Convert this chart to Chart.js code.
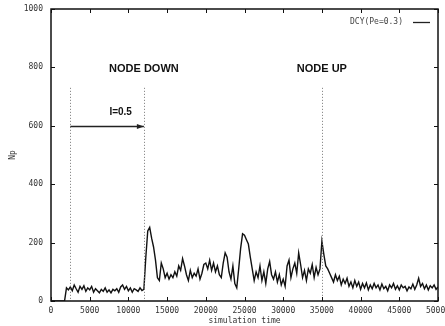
<!DOCTYPE html>
<html>
<head>
<meta charset="utf-8">
<script src="https://cdn.jsdelivr.net/npm/chart.js@4/dist/chart.umd.min.js"></script>
<style>
  html, body { margin: 0; padding: 0; background: #fff; }
  #wrap { width: 445px; height: 326px; }
</style>
</head>
<body>
<div id="wrap"><canvas id="chart"></canvas></div>
<script>
// sampled every 250 time units starting at 0
const startTime = 0;
const sampleStep = 250;
const npValues = [
  0, 0, 0, 0, 0, 0, 0, 0,
  45, 38, 48, 35, 55, 42, 30, 50, 40, 52, 33, 45, 38, 50, 30, 42, 35, 28, 40, 33,
  45, 30, 38, 28, 40, 35, 42, 30, 48, 55, 40, 50, 35, 45, 30, 42, 38, 33, 45, 36,
  40, 150, 240, 252, 215, 185, 140, 80, 70, 130, 110, 80, 95, 75, 90, 80,
  100, 85, 120, 105, 145, 120, 90, 70, 105, 80, 95, 85, 110, 75, 95, 125,
  130, 110, 140, 105, 130, 100, 120, 90, 80, 130, 165, 150, 100, 75, 120, 60,
  45, 110, 180, 230, 225, 210, 195, 150, 110, 70, 100, 80, 120, 70, 100, 60,
  110, 135, 90, 75, 100, 65, 90, 55, 75, 50, 120, 140, 80, 110, 130, 95,
  165, 125, 80, 105, 70, 110, 95, 125, 80, 115, 90, 110, 205, 160, 120, 110,
  95, 80, 65, 90, 70, 85, 55, 75, 60, 78, 50, 65, 45, 70, 50, 65,
  40, 60, 45, 62, 38, 55, 42, 60, 45, 55, 38, 58, 42, 50, 35, 55,
  45, 60, 40, 52, 38, 55, 45, 50, 35, 48, 42, 58, 40, 55, 78, 50,
  60, 42, 55, 38, 52, 45, 55, 40, 48
];
const xTicks = [0, 5000, 10000, 15000, 20000, 25000, 30000, 35000, 40000, 45000, 50000];
const yTicks = [0, 200, 400, 600, 800, 1000];
const seriesLabel = 'DCY(Pe=0.3)';
const nodeDownTime = 12000;
const nodeUpTime = 35000;
const intervalStart = 2500;

const points = npValues.map((v, i) => ({ x: startTime + i * sampleStep, y: v }));

const tickFont = { family: 'DejaVu Sans Mono', size: 8 };

const decorations = {
  id: 'decorations',
  afterDatasetsDraw(chart) {
    const { ctx, chartArea: a, scales: { x, y } } = chart;
    ctx.save();
    // dotted event markers
    ctx.strokeStyle = '#777';
    ctx.lineWidth = 1;
    ctx.setLineDash([1, 2]);
    [intervalStart, nodeDownTime, nodeUpTime].forEach(t => {
      const px = Math.round(x.getPixelForValue(t)) + 0.5;
      ctx.beginPath();
      ctx.moveTo(px, y.getPixelForValue(730));
      ctx.lineTo(px, y.getPixelForValue(0));
      ctx.stroke();
    });
    ctx.setLineDash([]);

    // interval arrow
    const ay = Math.round(y.getPixelForValue(600)) + 0.5;
    const ax0 = x.getPixelForValue(intervalStart);
    const ax1 = x.getPixelForValue(nodeDownTime);
    ctx.strokeStyle = '#222';
    ctx.lineWidth = 1.3;
    ctx.beginPath();
    ctx.moveTo(ax0, ay);
    ctx.lineTo(ax1, ay);
    ctx.stroke();
    ctx.fillStyle = '#222';
    ctx.beginPath();
    ctx.moveTo(ax1, ay);
    ctx.lineTo(ax1 - 7, ay - 2.5);
    ctx.lineTo(ax1 - 7, ay + 2.5);
    ctx.closePath();
    ctx.fill();

    // annotation text
    ctx.fillStyle = '#111';
    ctx.textAlign = 'center';
    ctx.textBaseline = 'middle';
    ctx.font = 'bold 11px "Liberation Sans"';
    ctx.fillText('NODE DOWN', x.getPixelForValue(nodeDownTime), y.getPixelForValue(795));
    ctx.fillText('NODE UP', x.getPixelForValue(nodeUpTime), y.getPixelForValue(795));
    ctx.font = 'bold 10px "Liberation Sans"';
    ctx.fillText('I=0.5', x.getPixelForValue(9000), y.getPixelForValue(645));

    // legend
    ctx.font = '8px "DejaVu Sans Mono"';
    ctx.fillStyle = '#444';
    ctx.textAlign = 'right';
    ctx.fillText(seriesLabel, 403, 22);
    ctx.strokeStyle = '#222';
    ctx.lineWidth = 1.3;
    ctx.beginPath();
    ctx.moveTo(413, 22.5);
    ctx.lineTo(430, 22.5);
    ctx.stroke();

    // frame with inward ticks on all sides
    ctx.strokeStyle = '#111';
    ctx.lineWidth = 1.5;
    ctx.strokeRect(a.left, a.top, a.right - a.left, a.bottom - a.top);
    ctx.lineWidth = 1;
    ctx.beginPath();
    xTicks.forEach(t => {
      const px = Math.round(x.getPixelForValue(t)) + 0.5;
      ctx.moveTo(px, a.bottom); ctx.lineTo(px, a.bottom - 4);
      ctx.moveTo(px, a.top); ctx.lineTo(px, a.top + 4);
    });
    yTicks.forEach(v => {
      const py = Math.round(y.getPixelForValue(v)) + 0.5;
      ctx.moveTo(a.left, py); ctx.lineTo(a.left + 4, py);
      ctx.moveTo(a.right, py); ctx.lineTo(a.right - 4, py);
    });
    ctx.stroke();
    ctx.restore();
  }
};

new Chart(document.getElementById('chart'), {
  type: 'line',
  data: {
    datasets: [{
      label: seriesLabel,
      data: points,
      borderColor: '#111',
      borderWidth: 1.4,
      pointRadius: 0,
      tension: 0,
      fill: false
    }]
  },
  options: {
    responsive: true,
    maintainAspectRatio: false,
    animation: false,
    layout: { padding: { top: 9, right: 7, left: 0, bottom: 0 } },
    plugins: { legend: { display: false }, tooltip: { enabled: false } },
    scales: {
      x: {
        type: 'linear',
        min: 0,
        max: 50000,
        afterBuildTicks: s => { s.ticks = xTicks.map(v => ({ value: v })); },
        afterFit: s => { s.height = 25; s.paddingLeft = 0; s.paddingRight = 0; },
        grid: { display: false, drawTicks: false },
        border: { display: false },
        ticks: { font: tickFont, color: '#333', padding: 5, maxRotation: 0, autoSkip: false, callback: v => String(v) },
        title: { display: true, text: 'simulation time', font: tickFont, color: '#333', padding: { top: -2, bottom: 0 } }
      },
      y: {
        min: 0,
        max: 1000,
        afterBuildTicks: s => { s.ticks = yTicks.map(v => ({ value: v })); },
        afterFit: s => { s.width = 51; s.paddingTop = 0; s.paddingBottom = 0; },
        grid: { display: false, drawTicks: false },
        border: { display: false },
        ticks: { font: tickFont, color: '#333', padding: 8, callback: v => String(v) },
        title: { display: true, text: 'Np', font: tickFont, color: '#333', padding: { top: 8, bottom: 0 } }
      }
    }
  },
  plugins: [decorations]
});
</script>
</body>
</html>
